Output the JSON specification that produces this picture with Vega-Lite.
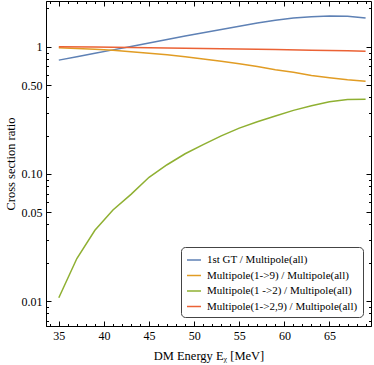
{
  "$schema": "https://vega.github.io/schema/vega-lite/v6.json",
  "width": 325,
  "height": 325,
  "autosize": {"type": "none"},
  "padding": {"left": 46, "top": 1, "right": 3, "bottom": 39},
  "background": "white",
  "config": {
    "view": {"stroke": "black", "strokeWidth": 1},
    "axis": {"labelFont": "Liberation Serif", "titleFont": "Liberation Serif", "labelColor": "black", "titleColor": "black", "domainColor": "black", "tickColor": "black", "grid": false, "labelFontSize": 12, "titleFontSize": 12.5, "titleFontWeight": "normal"},
    "legend": {"labelFont": "Liberation Serif", "labelFontSize": 11, "labelColor": "black"}
  },
  "data": {"values": [
    {"E":35,"s":"1st GT / Multipole(all)","r":0.785},
    {"E":37,"s":"1st GT / Multipole(all)","r":0.835},
    {"E":39,"s":"1st GT / Multipole(all)","r":0.89},
    {"E":41,"s":"1st GT / Multipole(all)","r":0.945},
    {"E":43,"s":"1st GT / Multipole(all)","r":1.005},
    {"E":45,"s":"1st GT / Multipole(all)","r":1.07},
    {"E":47,"s":"1st GT / Multipole(all)","r":1.14},
    {"E":49,"s":"1st GT / Multipole(all)","r":1.215},
    {"E":51,"s":"1st GT / Multipole(all)","r":1.29},
    {"E":53,"s":"1st GT / Multipole(all)","r":1.365},
    {"E":55,"s":"1st GT / Multipole(all)","r":1.45},
    {"E":57,"s":"1st GT / Multipole(all)","r":1.535},
    {"E":59,"s":"1st GT / Multipole(all)","r":1.615},
    {"E":61,"s":"1st GT / Multipole(all)","r":1.685},
    {"E":63,"s":"1st GT / Multipole(all)","r":1.725},
    {"E":65,"s":"1st GT / Multipole(all)","r":1.745},
    {"E":67,"s":"1st GT / Multipole(all)","r":1.74},
    {"E":69,"s":"1st GT / Multipole(all)","r":1.68},
    {"E":35,"s":"Multipole(1->9) / Multipole(all)","r":0.98},
    {"E":37,"s":"Multipole(1->9) / Multipole(all)","r":0.97},
    {"E":39,"s":"Multipole(1->9) / Multipole(all)","r":0.955},
    {"E":41,"s":"Multipole(1->9) / Multipole(all)","r":0.94},
    {"E":43,"s":"Multipole(1->9) / Multipole(all)","r":0.915},
    {"E":45,"s":"Multipole(1->9) / Multipole(all)","r":0.89},
    {"E":47,"s":"Multipole(1->9) / Multipole(all)","r":0.865},
    {"E":49,"s":"Multipole(1->9) / Multipole(all)","r":0.835},
    {"E":51,"s":"Multipole(1->9) / Multipole(all)","r":0.80},
    {"E":53,"s":"Multipole(1->9) / Multipole(all)","r":0.77},
    {"E":55,"s":"Multipole(1->9) / Multipole(all)","r":0.735},
    {"E":57,"s":"Multipole(1->9) / Multipole(all)","r":0.70},
    {"E":59,"s":"Multipole(1->9) / Multipole(all)","r":0.66},
    {"E":61,"s":"Multipole(1->9) / Multipole(all)","r":0.63},
    {"E":63,"s":"Multipole(1->9) / Multipole(all)","r":0.595},
    {"E":65,"s":"Multipole(1->9) / Multipole(all)","r":0.57},
    {"E":67,"s":"Multipole(1->9) / Multipole(all)","r":0.55},
    {"E":69,"s":"Multipole(1->9) / Multipole(all)","r":0.535},
    {"E":35,"s":"Multipole(1 ->2) / Multipole(all)","r":0.0106},
    {"E":37,"s":"Multipole(1 ->2) / Multipole(all)","r":0.0216},
    {"E":39,"s":"Multipole(1 ->2) / Multipole(all)","r":0.036},
    {"E":41,"s":"Multipole(1 ->2) / Multipole(all)","r":0.052},
    {"E":43,"s":"Multipole(1 ->2) / Multipole(all)","r":0.069},
    {"E":45,"s":"Multipole(1 ->2) / Multipole(all)","r":0.094},
    {"E":47,"s":"Multipole(1 ->2) / Multipole(all)","r":0.118},
    {"E":49,"s":"Multipole(1 ->2) / Multipole(all)","r":0.144},
    {"E":51,"s":"Multipole(1 ->2) / Multipole(all)","r":0.170},
    {"E":53,"s":"Multipole(1 ->2) / Multipole(all)","r":0.199},
    {"E":55,"s":"Multipole(1 ->2) / Multipole(all)","r":0.229},
    {"E":57,"s":"Multipole(1 ->2) / Multipole(all)","r":0.257},
    {"E":59,"s":"Multipole(1 ->2) / Multipole(all)","r":0.285},
    {"E":61,"s":"Multipole(1 ->2) / Multipole(all)","r":0.316},
    {"E":63,"s":"Multipole(1 ->2) / Multipole(all)","r":0.343},
    {"E":65,"s":"Multipole(1 ->2) / Multipole(all)","r":0.369},
    {"E":67,"s":"Multipole(1 ->2) / Multipole(all)","r":0.384},
    {"E":69,"s":"Multipole(1 ->2) / Multipole(all)","r":0.386},
    {"E":35,"s":"Multipole(1->2,9) / Multipole(all)","r":1.0},
    {"E":39,"s":"Multipole(1->2,9) / Multipole(all)","r":0.995},
    {"E":43,"s":"Multipole(1->2,9) / Multipole(all)","r":0.987},
    {"E":47,"s":"Multipole(1->2,9) / Multipole(all)","r":0.978},
    {"E":51,"s":"Multipole(1->2,9) / Multipole(all)","r":0.968},
    {"E":55,"s":"Multipole(1->2,9) / Multipole(all)","r":0.959},
    {"E":59,"s":"Multipole(1->2,9) / Multipole(all)","r":0.95},
    {"E":63,"s":"Multipole(1->2,9) / Multipole(all)","r":0.94},
    {"E":67,"s":"Multipole(1->2,9) / Multipole(all)","r":0.928},
    {"E":69,"s":"Multipole(1->2,9) / Multipole(all)","r":0.92}
  ]},
  "resolve": {"axis": {"x": "independent", "y": "independent"}},
  "layer": [
    {
      "mark": {"type": "line", "strokeWidth": 1.5, "clip": true},
      "encoding": {
        "x": {"field": "E", "type": "quantitative", "scale": {"domain": [33.58, 69.6], "nice": false, "zero": false},
          "axis": {"orient": "bottom", "title": "DM Energy Eᵪ [MeV]", "titlePadding": 6,
            "values": [34,35,36,37,38,39,40,41,42,43,44,45,46,47,48,49,50,51,52,53,54,55,56,57,58,59,60,61,62,63,64,65,66,67,68,69],
            "labelExpr": "datum.value % 5 === 0 ? datum.label : ''",
            "tickSize": {"condition": {"test": "datum.value % 5 === 0", "value": -5}, "value": -2.5},
            "labelPadding": 9, "labelFlush": false, "labelOverlap": false}},
        "y": {"field": "r", "type": "quantitative", "scale": {"type": "log", "domain": [0.00636, 2.29], "nice": false},
          "axis": {"orient": "left", "title": "Cross section ratio", "titlePadding": 4,
            "values": [0.007,0.008,0.009,0.01,0.02,0.03,0.04,0.05,0.06,0.07,0.08,0.09,0.1,0.2,0.3,0.4,0.5,0.6,0.7,0.8,0.9,1,2],
            "labelExpr": "datum.value === 0.01 ? '0.01' : datum.value === 0.05 ? '0.05' : datum.value === 0.1 ? '0.10' : datum.value === 0.5 ? '0.50' : datum.value === 1 ? '1' : ''",
            "tickSize": {"condition": {"test": "indexof([0.01,0.05,0.1,0.5,1], datum.value) >= 0", "value": -5}, "value": -2.5},
            "labelPadding": 9, "labelOverlap": false, "labelFlush": false}},
        "color": {"field": "s", "type": "nominal",
          "scale": {"domain": ["1st GT / Multipole(all)", "Multipole(1->9) / Multipole(all)", "Multipole(1 ->2) / Multipole(all)", "Multipole(1->2,9) / Multipole(all)"],
            "range": ["#5E81B5", "#E19C24", "#8FB032", "#EB6235"]},
          "legend": {"title": null, "orient": "none", "legendX": 135, "legendY": 246, "symbolType": "stroke", "symbolStrokeWidth": 1.5, "symbolSize": 196,
            "strokeColor": "#444", "cornerRadius": 4, "fillColor": "white", "padding": 5, "rowPadding": 2.5, "labelOffset": 5, "labelLimit": 300}}
      }
    },
    {
      "mark": {"type": "line", "opacity": 0},
      "encoding": {
        "x": {"field": "E", "type": "quantitative",
          "axis": {"orient": "top", "title": null, "labels": false, "domain": false,
            "values": [34,35,36,37,38,39,40,41,42,43,44,45,46,47,48,49,50,51,52,53,54,55,56,57,58,59,60,61,62,63,64,65,66,67,68,69],
            "tickSize": {"condition": {"test": "datum.value % 5 === 0", "value": -5}, "value": -2.5}}},
        "y": {"field": "r", "type": "quantitative",
          "axis": {"orient": "right", "title": null, "labels": false, "domain": false,
            "values": [0.007,0.008,0.009,0.01,0.02,0.03,0.04,0.05,0.06,0.07,0.08,0.09,0.1,0.2,0.3,0.4,0.5,0.6,0.7,0.8,0.9,1,2],
            "tickSize": {"condition": {"test": "indexof([0.01,0.05,0.1,0.5,1], datum.value) >= 0", "value": -5}, "value": -2.5}}},
        "detail": {"field": "s"}
      }
    }
  ]
}
